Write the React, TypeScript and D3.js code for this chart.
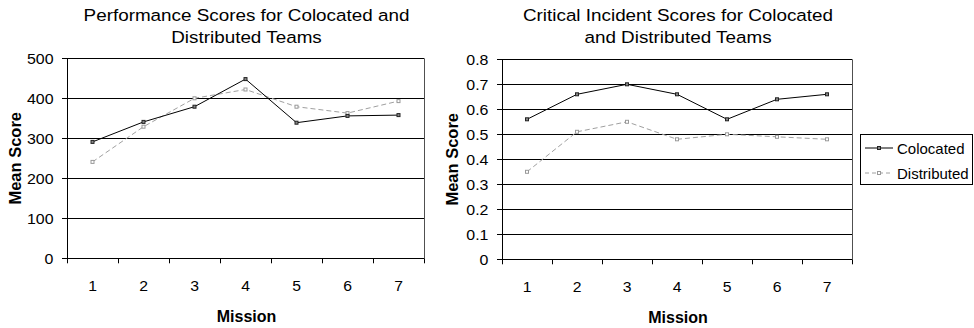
import React from "react";
import * as d3 from "d3";

const missions = ["1", "2", "3", "4", "5", "6", "7"];
const perfColocated = [291, 341, 379, 448, 339, 356, 358];
const perfDistributed = [241, 329, 400, 422, 379, 363, 393];
const ciColocated = [0.56, 0.66, 0.7, 0.66, 0.56, 0.64, 0.66];
const ciDistributed = [0.35, 0.51, 0.55, 0.48, 0.5, 0.49, 0.48];
const perfTicks = [0, 100, 200, 300, 400, 500];
const ciTicks = [0, 0.1, 0.2, 0.3, 0.4, 0.5, 0.6, 0.7, 0.8];
const seriesNames = ["Colocated", "Distributed"];

const FONT = "'Liberation Sans', Arial, sans-serif";

type PanelProps = {
  x0: number; x1: number; y0: number; y1: number;
  domainMax: number; ticks: number[]; fmt: (v: number) => string;
  colocated: number[]; distributed: number[]; title: string[]; yTitleOff: number;
};

function Panel({ x0, x1, y0, y1, domainMax, ticks, fmt, colocated, distributed, title, yTitleOff }: PanelProps) {
  const x = d3.scaleBand<string>().domain(missions).range([x0, x1]).padding(0);
  const y = d3.scaleLinear().domain([0, domainMax]).range([y1, y0]);
  const cx = (i: number) => (x(missions[i]) as number) + x.bandwidth() / 2;
  const line = d3.line<number>().x((_, i) => cx(i)).y((d) => y(d));
  const cxm = (x0 + x1) / 2 + 1;
  const cym = (y0 + y1) / 2;
  const boundaries = missions.map((m) => x(m) as number).concat([x1]);
  const py = (v: number) => Math.round(y(v)) + 0.5;
  return (
    <g>
      {title.map((t, i) => (
        <text key={i} transform={`translate(${cxm},${21 + i * 21.5}) scale(1.11,1)`} textAnchor="middle" fontSize={17} fontFamily={FONT} fill="#000">{t}</text>
      ))}
      {ticks.map((t) => (
        <g key={t}>
          <line x1={x0} x2={x1} y1={py(t)} y2={py(t)} stroke="#000" strokeWidth={1} />
          <line x1={x0 - 5} x2={x0} y1={py(t)} y2={py(t)} stroke="#000" strokeWidth={1} />
          <text transform={`translate(${x0 - 13.5},${y(t) + 5.3}) scale(1.1,1)`} textAnchor="end" fontSize={14.5} fontFamily={FONT} fill="#000">{fmt(t)}</text>
        </g>
      ))}
      <line x1={Math.round(x1) + 0.5} x2={Math.round(x1) + 0.5} y1={y0} y2={y1} stroke="#505050" strokeWidth={1} />
      <line x1={Math.round(x0) + 0.5} x2={Math.round(x0) + 0.5} y1={y0} y2={y1} stroke="#000" strokeWidth={1} />
      {boundaries.map((b, i) => (
        <line key={i} x1={Math.round(b) + 0.5} x2={Math.round(b) + 0.5} y1={y1} y2={y1 + 5} stroke="#000" strokeWidth={1} />
      ))}
      {missions.map((m, i) => (
        <text key={m} transform={`translate(${cx(i)},${y1 + 32.5}) scale(1.05,1)`} textAnchor="middle" fontSize={15} fontFamily={FONT} fill="#000">{m}</text>
      ))}
      <text x={cxm} y={y1 + 64} textAnchor="middle" fontSize={16} fontWeight="bold" fontFamily={FONT} fill="#000">Mission</text>
      <text transform={`translate(${x0 - yTitleOff},${cym}) rotate(-90)`} textAnchor="middle" fontSize={16.5} fontWeight="bold" fontFamily={FONT} fill="#000">Mean Score</text>
      <path d={line(distributed) || ""} fill="none" stroke="#a0a0a0" strokeWidth={1} strokeDasharray="5,3" />
      {distributed.map((v, i) => (
        <rect key={i} x={cx(i) - 1.5} y={y(v) - 1.5} width={3} height={3} fill="#fff" stroke="#999" strokeWidth={1} />
      ))}
      <path d={line(colocated) || ""} fill="none" stroke="#000" strokeWidth={1} />
      {colocated.map((v, i) => (
        <rect key={i} x={cx(i) - 1.5} y={y(v) - 1.5} width={3} height={3} fill="#888" stroke="#222" strokeWidth={1} />
      ))}
    </g>
  );
}

export default function App() {
  return (
    <svg width={974} height={328} style={{ position: "absolute", left: 0, top: 0, background: "#fff" }}>
      <rect width={974} height={328} fill="#fff" />
      <Panel x0={67} x1={424} y0={58.3} y1={258.3} domainMax={500} ticks={perfTicks} fmt={(v) => String(v)}
        colocated={perfColocated} distributed={perfDistributed} yTitleOff={46}
        title={["Performance Scores for Colocated and", "Distributed Teams"]} />
      <Panel x0={502} x1={852} y0={59.3} y1={259.3} domainMax={0.8} ticks={ciTicks} fmt={(v) => (v === 0 ? "0" : d3.format(".1f")(v))}
        colocated={ciColocated} distributed={ciDistributed} yTitleOff={43.6}
        title={["Critical Incident Scores for Colocated", "and Distributed Teams"]} />
      <g>
        <rect x={860.5} y={134.5} width={112} height={50} fill="#fff" stroke="#000" strokeWidth={1} />
        {seriesNames.map((s, i) => {
          const yy = 148 + i * 25;
          const dist = i === 1;
          return (
            <g key={s}>
              <line x1={865} x2={893} y1={yy} y2={yy} stroke={dist ? "#a0a0a0" : "#000"} strokeWidth={1} strokeDasharray={dist ? "4,3" : undefined} />
              <rect x={877.5} y={yy - 1.5} width={3} height={3} fill={dist ? "#fff" : "#888"} stroke={dist ? "#999" : "#222"} strokeWidth={1} />
              <text x={897} y={yy + 5.5} fontSize={15} fontFamily={FONT} fill="#000">{s}</text>
            </g>
          );
        })}
      </g>
    </svg>
  );
}
